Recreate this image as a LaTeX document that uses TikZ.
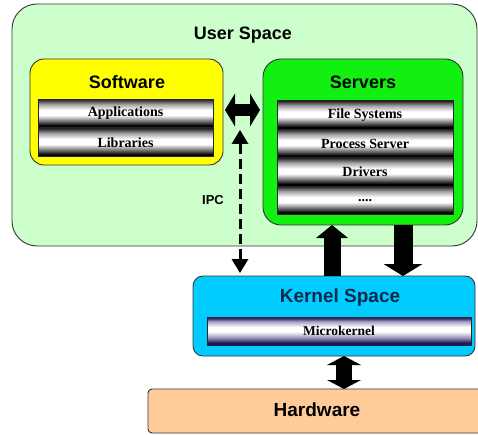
\documentclass[tikz,border=0pt]{standalone}
\usepackage{fontspec}
\setmainfont{Liberation Serif}
\newfontfamily\titlefont{Liberation Sans}
\usetikzlibrary{arrows.meta}

\definecolor{userbg}{HTML}{CCFFCC}
\definecolor{softbg}{HTML}{FFFF00}
\definecolor{servbg}{HTML}{11F011}
\definecolor{kernbg}{HTML}{00CCFF}
\definecolor{hardbg}{HTML}{FFCC99}
\definecolor{edge}{HTML}{333333}
\definecolor{kerntext}{HTML}{0D2A4A}
\definecolor{indigo}{HTML}{1C1660}

% cylinder-like bars: dark rims, bright band in the middle
\pgfdeclareverticalshading{barshade}{100bp}{%
  color(0bp)=(black); color(25bp)=(black); color(29bp)=(black);
  color(36bp)=(black!60); color(47bp)=(white); color(56bp)=(white);
  color(66bp)=(black!35); color(72bp)=(black!70); color(75bp)=(black!90); color(100bp)=(black!90)}
\pgfdeclareverticalshading{microshade}{100bp}{%
  color(0bp)=(indigo); color(25bp)=(indigo); color(29bp)=(indigo);
  color(38bp)=(indigo!45); color(49bp)=(white); color(57bp)=(white);
  color(67bp)=(indigo!40); color(72bp)=(indigo!85); color(75bp)=(indigo); color(100bp)=(indigo)}

\tikzset{
  region/.style={draw=edge, line width=0.9pt, inner sep=0pt, outer sep=0pt},
  title/.style={font=\titlefont\bfseries\fontsize{18}{20}\selectfont, inner sep=0pt},
  bar/.style={draw=black!85, line width=0.6pt, inner sep=0pt, outer sep=0pt,
    minimum height=28.5pt, shade, shading=barshade,
    font=\bfseries\fontsize{14}{16}\selectfont},
  ipcline/.style={line width=3pt, dash pattern=on 10pt off 5pt,
    {Triangle[length=14pt,width=17pt,line width=0pt]}-{Triangle[length=14pt,width=17pt,line width=0pt]}}
}

\begin{document}
\begin{tikzpicture}[x=1pt, y=-1pt]
\useasboundingbox (0,0) rectangle (478,435);
\fill[white] (0,0) rectangle (478,435);

% user space and its two groups
\node[region, fill=userbg, rounded corners=25pt, minimum width=465pt, minimum height=242pt] (user) at (244.5,125) {};
\node[title] (usertitle) at (243,35) {User Space};

\node[region, fill=softbg, rounded corners=14pt, minimum width=193pt, minimum height=106pt] (soft) at (126.5,112) {};
\node[title] (softtitle) at (127,82) {Software};
\node[bar, minimum width=175pt] (apps) at (125.5,113.5) {Applications};
\node[bar, minimum width=175pt] (libs) at (125.5,142.5) {Libraries};

\node[region, fill=servbg, rounded corners=18pt, minimum width=200pt, minimum height=166pt] (serv) at (363,142) {};
\node[title] (servtitle) at (363,82) {Servers};
\node[bar, minimum width=176pt] (fs) at (365,115) {File Systems};
\node[bar, minimum width=176pt] (proc) at (365,143.5) {Process Server};
\node[bar, minimum width=176pt] (drv) at (365,172) {Drivers};
\node[bar, minimum width=176pt] (more) at (365,200.5) {....};

% kernel and hardware
\node[region, fill=kernbg, rounded corners=10pt, minimum width=282pt, minimum height=80pt] (kern) at (334,316) {};
\node[title, text=kerntext, font=\titlefont\bfseries\fontsize{19}{21}\selectfont] (kerntitle) at (340,298) {Kernel Space};
\node[bar, shading=microshade, minimum width=264pt, minimum height=28pt, font=\bfseries\fontsize{13.5}{15}\selectfont] (micro) at (339,331) {Microkernel};

\node[region, fill=hardbg, rounded corners=4pt, minimum width=334pt, minimum height=44pt] (hard) at (315,411) {};
\node[title, font=\titlefont\bfseries\fontsize{19}{21}\selectfont] (hardtitle) at (317,410) {Hardware};

\node[font=\titlefont\bfseries\fontsize{13}{15}\selectfont, inner sep=0pt] (ipc) at (213,200) {IPC};

% arrows
\coordinate (hy) at (0,110);
\coordinate (ipcx) at (240,0);
\coordinate (ipctop) at (240,130);
\coordinate (upx) at (332,0);
\coordinate (downx) at (403,0);
\coordinate (hwx) at (344,0);

\draw[line width=12pt, shorten <=2pt, shorten >=3pt,
  {Triangle[length=10pt,width=33pt,line width=0pt]}-{Triangle[length=10pt,width=33pt,line width=0pt]}]
  (soft.east |- hy) -- (serv.west |- hy);
\draw[ipcline, shorten >=3pt] (ipctop) -- (kern.north -| ipcx);
\draw[line width=17pt, -{Triangle[length=13pt,width=32pt,line width=0pt]}]
  (kern.north -| upx) -- (serv.south -| upx);
\draw[line width=19pt, -{Triangle[length=12pt,width=39pt,line width=0pt]}]
  (serv.south -| downx) -- (kern.north -| downx);
\draw[line width=16pt,
  {Triangle[length=9pt,width=34pt,line width=0pt]}-{Triangle[length=9pt,width=34pt,line width=0pt]}]
  (kern.south -| hwx) -- (hard.north -| hwx);
\end{tikzpicture}
\end{document}
